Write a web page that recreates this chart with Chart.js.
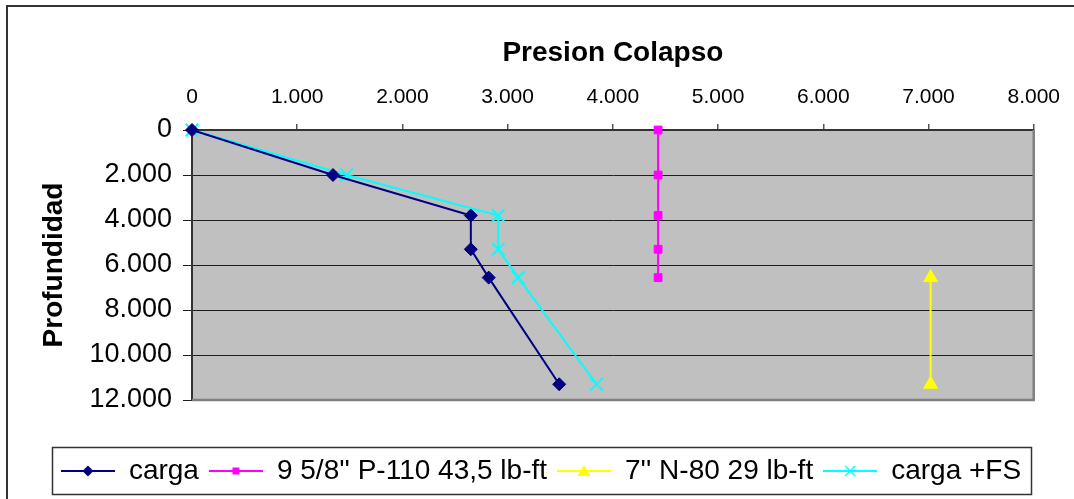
<!DOCTYPE html>
<html>
<head>
<meta charset="utf-8">
<script src="https://cdn.jsdelivr.net/npm/chart.js@4.4.1/dist/chart.umd.min.js"></script>
<style>
  html, body { margin: 0; padding: 0; background: #fff; overflow: hidden; }
  #wrap { width: 1074px; height: 499px; }
</style>
</head>
<body>
<div id="wrap"><canvas id="c" width="1074" height="499"></canvas></div>
<script>
// ---- data ----
const depths      = [0, 2000, 3800, 5300, 6560, 11300];
const carga       = [0, 1340, 2650, 2650, 2820, 3490];
const cargaFS     = [0, 1470, 2910, 2910, 3100, 3845];
const depths958   = [0, 2000, 3800, 5300, 6560];
const casing958   = [4430, 4430, 4430, 4430, 4430];
const depths7     = [6560, 11300];
const casing7     = [7020, 7020];
const seriesNames = ["carga", "9 5/8'' P-110 43,5 lb-ft", "7'' N-80 29 lb-ft", "carga +FS"];
const xTickValues = [0, 1000, 2000, 3000, 4000, 5000, 6000, 7000, 8000];
const yTickValues = [0, 2000, 4000, 6000, 8000, 10000, 12000];

const FONT = "'Liberation Sans', Arial, sans-serif";
const fmt = v => String(v).replace(/\B(?=(\d{3})+(?!\d))/g, '.');
const pts = (xs, ys) => xs.map((x, i) => ({x: x, y: ys[i]}));

const ICON_W = 54;
// legend icons: line with marker in middle
function icon(color, kind) {
  const c = document.createElement('canvas');
  c.width = ICON_W; c.height = 20;
  const g = c.getContext('2d');
  g.strokeStyle = color; g.lineWidth = 2;
  g.beginPath(); g.moveTo(0, 10); g.lineTo(ICON_W, 10); g.stroke();
  g.fillStyle = color;
  const cx = ICON_W / 2, cy = 10;
  g.beginPath();
  if (kind === 'diamond') {
    g.moveTo(cx, cy - 5.5); g.lineTo(cx + 5.5, cy); g.lineTo(cx, cy + 5.5); g.lineTo(cx - 5.5, cy); g.closePath(); g.fill();
  } else if (kind === 'square') {
    g.fillRect(cx - 3.5, cy - 3.5, 7, 7);
  } else if (kind === 'triangle') {
    g.moveTo(cx, cy - 6); g.lineTo(cx + 6.5, cy + 5); g.lineTo(cx - 6.5, cy + 5); g.closePath(); g.fill();
  } else if (kind === 'x') {
    g.lineWidth = 1.5;
    g.moveTo(cx - 5, cy - 5); g.lineTo(cx + 5, cy + 5);
    g.moveTo(cx + 5, cy - 5); g.lineTo(cx - 5, cy + 5); g.stroke();
  }
  return c;
}
const icons = [icon('#000080', 'diamond'), icon('#FF00FF', 'square'), icon('#FFFF00', 'triangle'), icon('#00FFFF', 'x')];

const decor = {
  id: 'decor',
  beforeDraw(chart) {
    const {ctx, chartArea: a} = chart;
    ctx.save();
    ctx.fillStyle = '#fff';
    ctx.fillRect(0, 0, chart.width, chart.height);
    ctx.strokeStyle = '#333';
    ctx.lineWidth = 2;
    ctx.strokeRect(7, 6, 2000, 2000);
    ctx.fillStyle = '#C0C0C0';
    ctx.fillRect(a.left, a.top, a.right - a.left, a.bottom - a.top);
    ctx.restore();
  },
  beforeDatasetsDraw(chart) {
    const {ctx, chartArea: a} = chart;
    ctx.save();
    ctx.strokeStyle = '#808080';
    ctx.lineWidth = 2.5;
    ctx.beginPath();
    ctx.moveTo(a.right, a.top);
    ctx.lineTo(a.right, a.bottom);
    ctx.lineTo(a.left, a.bottom);
    ctx.stroke();
    ctx.restore();
  },
  afterDraw(chart) {
    const lg = chart.legend;
    if (!lg || !lg.legendHitBoxes || !lg.legendHitBoxes.length) return;
    const hb = lg.legendHitBoxes;
    let l = Infinity, r = -Infinity, t = Infinity, b = -Infinity;
    hb.forEach(h => { l = Math.min(l, h.left); r = Math.max(r, h.left + h.width); t = Math.min(t, h.top); b = Math.max(b, h.top + h.height); });
    const ctx = chart.ctx;
    ctx.save();
    ctx.strokeStyle = '#333';
    ctx.lineWidth = 1.5;
    ctx.strokeRect(Math.round(l - 9) + 0.5, Math.round(t - 10) + 0.5, Math.round(r - l + 19), Math.round(b - t + 19));
    ctx.restore();
  }
};

new Chart(document.getElementById('c'), {
  type: 'scatter',
  data: {
    datasets: [
      { label: seriesNames[0], data: pts(carga, depths), showLine: true, borderColor: '#000080', backgroundColor: '#000080',
        borderWidth: 2, pointStyle: 'rectRot', pointRadius: 6.5, pointBorderWidth: 1, clip: false },
      { label: seriesNames[1], data: pts(casing958, depths958), showLine: true, borderColor: '#FF00FF', backgroundColor: '#FF00FF',
        borderWidth: 2, pointStyle: 'rect', pointRadius: 5.5, pointBorderWidth: 1, clip: false },
      { label: seriesNames[2], data: pts(casing7, depths7), showLine: true, borderColor: '#FFFF00', backgroundColor: '#FFFF00',
        borderWidth: 2, pointStyle: 'triangle', pointRadius: 8, pointBorderWidth: 1, clip: false },
      { label: seriesNames[3], data: pts(cargaFS, depths), showLine: true, borderColor: '#00FFFF', backgroundColor: '#00FFFF',
        borderWidth: 2, pointStyle: 'crossRot', pointRadius: 9, pointBorderWidth: 2, clip: false }
    ]
  },
  options: {
    responsive: false,
    animation: false,
    devicePixelRatio: 1,
    layout: { padding: { left: 46, right: 38, top: 0, bottom: 4 } },
    plugins: {
      title: { display: false },
      tooltip: { enabled: false },
      legend: {
        display: true,
        position: 'bottom',
        title: { display: true, text: ' ', font: { size: 10 }, padding: { top: 35, bottom: 0 } },
        labels: {
          usePointStyle: true,
          pointStyleWidth: ICON_W,
          padding: 10,
          color: '#000',
          font: { family: FONT, size: 28 },
          generateLabels: (chart) => Chart.defaults.plugins.legend.labels.generateLabels(chart).map((it, i) => Object.assign(it, { pointStyle: icons[i] }))
        }
      }
    },
    scales: {
      x: {
        type: 'linear',
        position: 'top',
        min: 0, max: 8000,
        afterBuildTicks: s => { s.ticks = xTickValues.map(v => ({value: v})); },
        afterFit: s => { s.height = 130; },
        ticks: { color: '#000', font: { family: FONT, size: 21 }, padding: 14, maxRotation: 0, autoSkip: false,
                 callback: v => fmt(v) },
        grid: { drawOnChartArea: false, drawTicks: true, tickLength: 6, color: '#555', lineWidth: 1.5 },
        border: { display: true, color: '#333', width: 2 },
        title: { display: true, text: 'Presion Colapso', color: '#000', font: { family: FONT, size: 28, weight: 'bold' },
                 padding: { top: 36, bottom: 0 } }
      },
      y: {
        type: 'linear',
        position: 'left',
        reverse: true,
        min: 0, max: 12000,
        afterBuildTicks: s => { s.ticks = yTickValues.map(v => ({value: v})); },
        afterFit: s => { s.width = 146; },
        ticks: { color: '#000', font: { family: FONT, size: 27 }, padding: 11, autoSkip: false,
                 callback: v => fmt(v) },
        grid: { drawOnChartArea: true, drawTicks: true, tickLength: 9, color: '#1e1e1e', lineWidth: 1 },
        border: { display: true, color: '#333', width: 2 },
        title: { display: true, text: 'Profundidad', color: '#000', font: { family: FONT, size: 28, weight: 'bold' },
                 padding: { top: -9, bottom: 0 } }
      }
    }
  },
  plugins: [decor]
});
</script>
</body>
</html>
